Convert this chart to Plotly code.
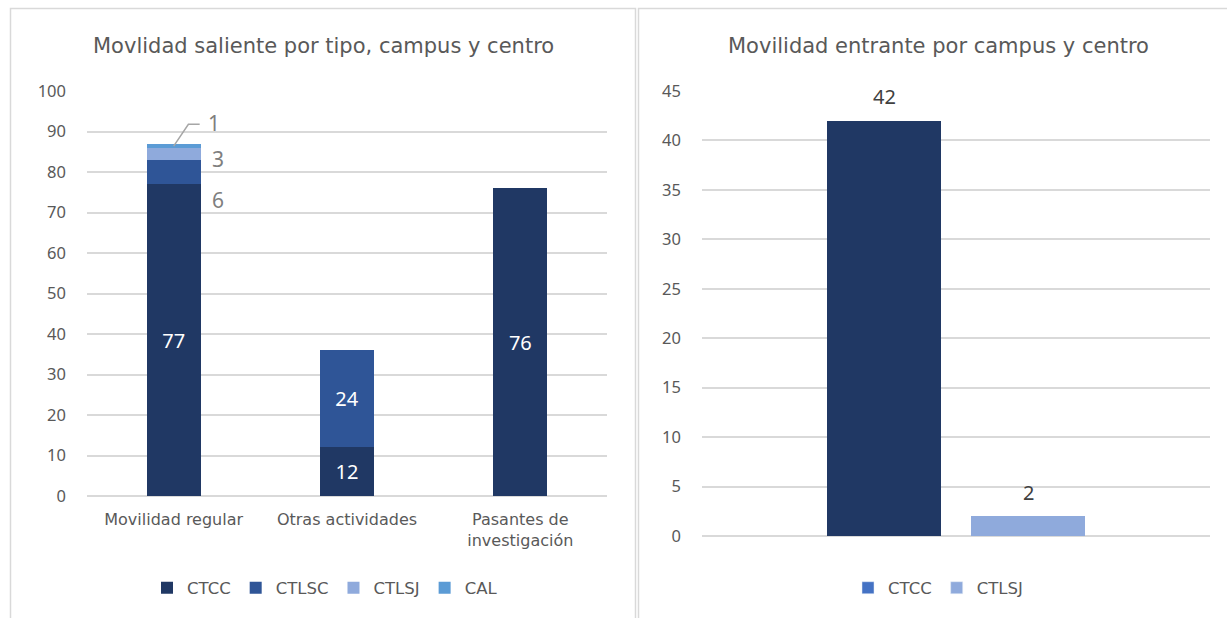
import plotly.graph_objects as go

# Movilidad saliente (stacked by centro)
tipos = ["Movilidad regular", "Otras actividades", "Pasantes de<br>investigación"]
ctcc_sal = [77, 12, 76]
ctlsc_sal = [6, 24, None]
ctlsj_sal = [3, None, None]
cal_sal = [1, None, None]

# Movilidad entrante
centros_ent = ["CTCC", "CTLSJ"]
valores_ent = [42, 2]

C_CTCC = "#203864"
C_CTLSC = "#2F5597"
C_CTLSJ = "#8FAADC"
C_CAL = "#5B9BD5"
C_CTCC_LEG = "#4472C4"

W, H = 1227, 618
NUM_FONT = "Noto Sans"
TXT_FONT = "DejaVu Sans"
GRID = "#d9d9d9"
TICK = "#595959"

fig = go.Figure()

BW = 0.31
series_sal = [("CTCC", ctcc_sal, C_CTCC), ("CTLSC", ctlsc_sal, C_CTLSC),
              ("CTLSJ", ctlsj_sal, C_CTLSJ), ("CAL", cal_sal, C_CAL)]
for name, vals, col in series_sal:
    txt = []
    for i, v in enumerate(vals):
        # the thin segments of the first column get their labels outside
        if v is None or (i == 0 and name != "CTCC"):
            txt.append("")
        else:
            txt.append(str(v))
    fig.add_trace(go.Bar(
        x=tipos, y=vals, name=name, marker=dict(color=col, line=dict(width=0)),
        width=BW, text=txt, textposition="inside", insidetextanchor="middle",
        textfont=dict(family=NUM_FONT, size=20, color="white"),
        textangle=0, xaxis="x", yaxis="y", legend="legend", hoverinfo="skip",
    ))

# outside labels for the thin segments of the first column
lab_col = "#7f7f7f"
base = ctcc_sal[0]
small = [ctlsc_sal[0], ctlsj_sal[0], cal_sal[0]]
top = base + small[0] + small[1] + small[2]
fig.add_annotation(x=0, y=base - 3.8, xref="x", yref="y", text=str(small[0]),
                   showarrow=False, xshift=44,
                   font=dict(family=NUM_FONT, size=21, color=lab_col))
fig.add_annotation(x=0, y=base + small[0] + 0.1, xref="x", yref="y", text=str(small[1]),
                   showarrow=False, xshift=44,
                   font=dict(family=NUM_FONT, size=21, color=lab_col))
fig.add_annotation(x=0, y=top + 5.0, xref="x", yref="y", text=str(small[2]),
                   showarrow=False, xshift=40,
                   font=dict(family=NUM_FONT, size=21, color=lab_col))
# leader line for the "1" label
fig.add_shape(type="path", xref="x", yref="y",
              path=f"M 0.0,{top - 0.6} L 0.085,{top + 4.8} L 0.15,{top + 4.8}",
              line=dict(color="#a6a6a6", width=1.5))

# entrante bars
cw = 144.0
plot_w = 1210 - 702
half = plot_w / cw / 2
fig.add_trace(go.Bar(
    x=centros_ent, y=valores_ent, marker=dict(color=[C_CTCC, C_CTLSJ], line=dict(width=0)),
    width=114 / cw, xaxis="x2", yaxis="y2", showlegend=False, hoverinfo="skip",
))
for c, v in zip(centros_ent, valores_ent):
    fig.add_annotation(x=c, y=v, xref="x2", yref="y2", text=str(v), showarrow=False,
                       yshift=24, font=dict(family=NUM_FONT, size=20, color="#404040"))
# legend entries for the entrante chart
for name, col in [("CTCC", C_CTCC_LEG), ("CTLSJ", C_CTLSJ)]:
    fig.add_trace(go.Bar(x=[None], y=[None], name=name, marker=dict(color=col),
                         xaxis="x2", yaxis="y2", legend="legend2", hoverinfo="skip"))


def py(px):
    return 1 - px / H


def pxx(px):
    return px / W


axis_common = dict(showgrid=True, gridcolor=GRID, gridwidth=1.5, zeroline=True,
                   zerolinecolor=GRID, zerolinewidth=1.5, showline=False,
                   tickfont=dict(family=NUM_FONT, size=16.5, color=TICK),
                   ticks="", ticklabelstandoff=20)

legend_common = dict(orientation="h", xanchor="center", y=py(588), yanchor="middle",
                     font=dict(family=TXT_FONT, size=16.5, color=TICK),
                     bgcolor="rgba(0,0,0,0)", traceorder="normal", itemclick=False)

fig.update_layout(
    width=W, height=H, margin=dict(l=0, r=0, t=0, b=0, autoexpand=False),
    paper_bgcolor="white", plot_bgcolor="white",
    barmode="stack", showlegend=True,
    xaxis=dict(domain=[pxx(87), pxx(607)], type="category", showgrid=False,
               showline=False, zeroline=False, ticks="",
               tickfont=dict(family=TXT_FONT, size=16, color=TICK),
               ticklabelstandoff=12, anchor="y"),
    yaxis=dict(domain=[py(496), py(91)], range=[0, 100], dtick=10, anchor="x",
               **axis_common),
    xaxis2=dict(domain=[pxx(702), pxx(1210)], type="category",
                range=[0.5 - half, 0.5 + half], showgrid=False, showline=False,
                zeroline=False, showticklabels=False, ticks="", anchor="y2"),
    yaxis2=dict(domain=[py(536), py(91)], range=[0, 45], dtick=5, anchor="x2",
                **axis_common),
    legend=dict(x=pxx(325), **legend_common),
    legend2=dict(x=pxx(938), **legend_common),
)

# titles
title_font = dict(family=TXT_FONT, size=21, color=TICK)
fig.add_annotation(x=pxx(323), y=py(46), xref="paper", yref="paper",
                   xanchor="center", yanchor="middle",
                   text="Movlidad saliente por tipo, campus y centro", showarrow=False,
                   font=title_font)
fig.add_annotation(x=pxx(938), y=py(46), xref="paper", yref="paper",
                   xanchor="center", yanchor="middle",
                   text="Movilidad entrante por campus y centro", showarrow=False,
                   font=title_font)

# panel frames
fig.add_shape(type="rect", xref="paper", yref="paper", x0=pxx(10.5), x1=pxx(635.5),
              y0=py(620), y1=py(8.5), line=dict(color=GRID, width=1.5), layer="below")
fig.add_shape(type="rect", xref="paper", yref="paper", x0=pxx(638.5), x1=pxx(1230),
              y0=py(620), y1=py(8.5), line=dict(color=GRID, width=1.5), layer="below")

fig.write_html("out.html")
